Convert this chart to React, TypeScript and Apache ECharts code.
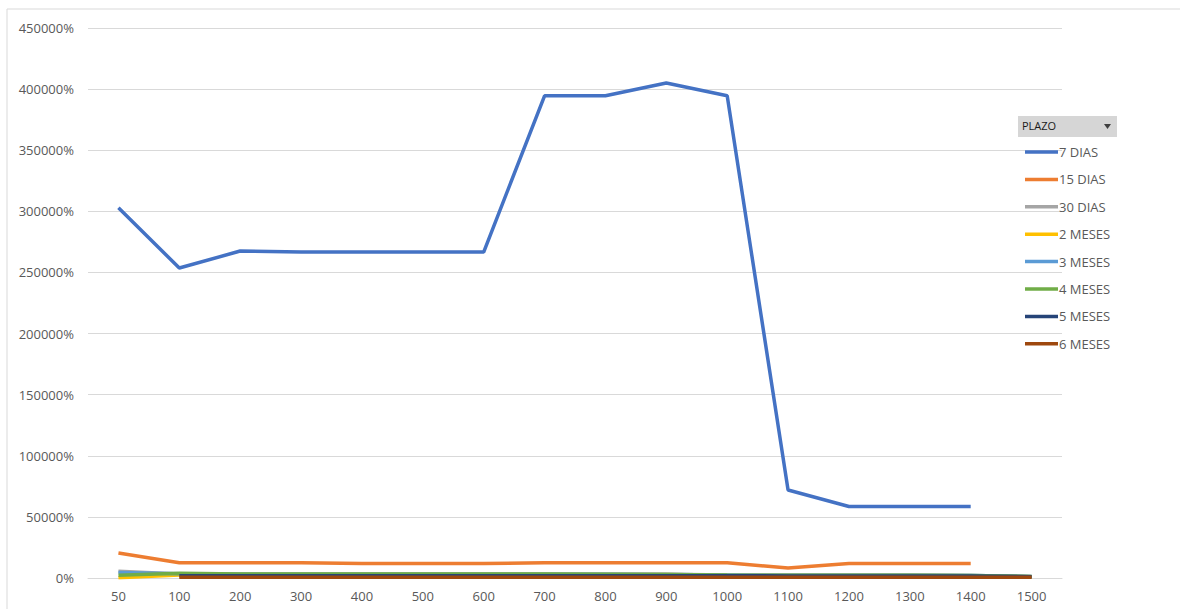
import React, { useEffect, useRef } from "react";
import * as echarts from "echarts";

const categories = ["50", "100", "200", "300", "400", "500", "600", "700", "800", "900", "1000", "1100", "1200", "1300", "1400", "1500"];
const dias7 = [303000, 253600, 267500, 266700, 266700, 266700, 266700, 394500, 394500, 405000, 394500, 72000, 58500, 58500, 58500, null];
const dias15 = [20500, 12500, 12500, 12500, 11800, 11800, 11800, 12500, 12500, 12500, 12500, 8200, 11800, 11800, 11800, null];
const dias30 = [5500, 3300, 3000, 3000, 3000, 3000, 3000, 3000, 3000, 3000, 2500, 2200, 2200, 2200, 2000, 1200];
const meses2 = [300, 2500, 2800, 2800, 2800, 2800, 2800, 2800, 2800, 2800, 2200, 2000, 2000, 2000, 1800, 1000];
const meses3 = [4500, 3500, 3000, 3000, 3000, 3000, 3000, 3000, 3000, 2800, 2500, 2200, 2200, 2200, 2000, 1200];
const meses4 = [2200, 3800, 3200, 3200, 3200, 3200, 3200, 3200, 3000, 2800, 2400, 2200, 2200, 2200, 2000, 1200];
const meses5 = [null, 1800, 1800, 1800, 1800, 1800, 1800, 1800, 1800, 1800, 1800, 1700, 1700, 1700, 1600, 1000];
const meses6 = [null, 700, 700, 700, 700, 700, 700, 700, 700, 700, 700, 700, 700, 700, 700, 700];
const yTicks = [0, 50000, 100000, 150000, 200000, 250000, 300000, 350000, 400000, 450000];

const seriesNames = ["7 DIAS", "15 DIAS", "30 DIAS", "2 MESES", "3 MESES", "4 MESES", "5 MESES", "6 MESES"];
const seriesData = [dias7, dias15, dias30, meses2, meses3, meses4, meses5, meses6];
const colors = ["#4472C4", "#ED7D31", "#A5A5A5", "#FFC000", "#5B9BD5", "#70AD47", "#264478", "#9E480E"];

const FONT = "'Open Sans', sans-serif";

export default function App() {
  const ref = useRef<HTMLDivElement>(null);
  useEffect(() => {
    if (!ref.current) return;
    const chart = echarts.init(ref.current, null, { renderer: "svg" });
    chart.setOption({
      animation: false,
      color: colors,
      textStyle: { fontFamily: FONT },
      grid: { left: 88, right: 118, top: 28, bottom: 31, containLabel: false },
      graphic: [
        { type: "rect", shape: { x: 7, y: 9, width: 1200, height: 640 }, style: { fill: "none", stroke: "#d9d9d9", lineWidth: 1 }, z: -1 },
        { type: "rect", shape: { x: 1018, y: 116, width: 99, height: 21 }, style: { fill: "#d6d6d6" } },
        { type: "text", x: 1022, y: 120, style: { text: "PLAZO", fontFamily: FONT, fontSize: 11, fill: "#1a1a1a" } },
        { type: "polygon", shape: { points: [[1104, 124], [1111, 124], [1107.5, 129]] }, style: { fill: "#404040" } },
      ],
      legend: {
        orient: "vertical",
        left: 1025,
        top: 145,
        padding: 0,
        icon: "rect",
        itemWidth: 33,
        itemHeight: 3.5,
        itemGap: 13.4,
        textStyle: { color: "#595959", fontSize: 13, fontFamily: FONT, lineHeight: 14, padding: [0, 0, 0, -4] },
        data: seriesNames,
      },
      xAxis: {
        type: "category",
        data: categories,
        boundaryGap: true,
        axisLine: { show: true, lineStyle: { color: "#d9d9d9" } },
        axisTick: { show: false },
        axisLabel: { color: "#595959", fontSize: 13, fontFamily: FONT, margin: 11 },
      },
      yAxis: {
        type: "value",
        min: yTicks[0],
        max: yTicks[yTicks.length - 1],
        interval: 50000,
        axisLine: { show: false },
        axisTick: { show: false },
        splitLine: { lineStyle: { color: "#d9d9d9" } },
        axisLabel: { color: "#595959", fontSize: 13, fontFamily: FONT, margin: 14, formatter: (v: number) => v + "%" },
      },
      series: seriesNames.map((name, i) => ({
        name,
        type: "line",
        data: seriesData[i],
        symbol: "none",
        lineStyle: { width: 3.5, color: colors[i] },
        itemStyle: { color: colors[i] },
        connectNulls: false,
      })),
    });
    return () => chart.dispose();
  }, []);
  return (
    <div style={{ position: "fixed", left: 0, top: 0, width: 1180, height: 609, overflow: "hidden", background: "#fff" }}>
      <div ref={ref} style={{ width: 1180, height: 609 }} />
    </div>
  );
}
